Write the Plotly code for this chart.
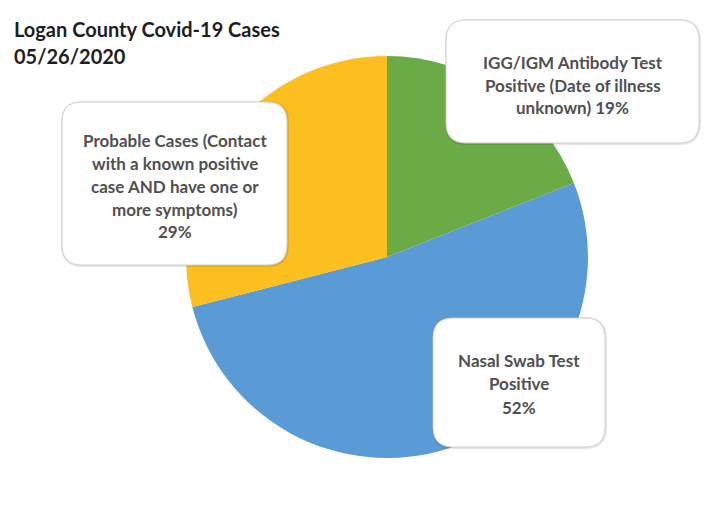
import plotly.graph_objects as go

# ---- data ----
categories = [
    "IGG/IGM Antibody Test Positive (Date of illness unknown)",
    "Nasal Swab Test Positive",
    "Probable Cases (Contact with a known positive case AND have one or more symptoms)",
]
values = [19, 52, 29]
box_lines = [
    ["IGG/IGM Antibody Test", "Positive (Date of illness", "unknown) 19%"],
    ["Nasal Swab Test", "Positive", "52%"],
    ["Probable Cases (Contact", "with a known positive", "case AND have one or", "more symptoms)", "29%"],
]
title_lines = ["Logan County Covid-19 Cases", "05/26/2020"]
colors = ["#6aab45", "#5b9bd5", "#fbbf1f"]

W, H = 726, 519
OFF = 8  # page body margin

def px(x):
    return (x - OFF) / W

def py(y):
    return 1 - (y - OFF) / H

def rrect(x0, y0, x1, y1, r):
    def P(x, y):
        return f"{px(x):.5f},{py(y):.5f}"
    d = f"M {P(x0 + r, y0)} L {P(x1 - r, y0)} Q {P(x1, y0)} {P(x1, y0 + r)} "
    d += f"L {P(x1, y1 - r)} Q {P(x1, y1)} {P(x1 - r, y1)} "
    d += f"L {P(x0 + r, y1)} Q {P(x0, y1)} {P(x0, y1 - r)} "
    d += f"L {P(x0, y0 + r)} Q {P(x0, y0)} {P(x0 + r, y0)} Z"
    return d

cx, cy, R = 387, 257, 201

fig = go.Figure(go.Pie(
    labels=categories,
    values=values,
    sort=False,
    direction="clockwise",
    rotation=0,
    marker=dict(colors=colors, line=dict(width=0)),
    textinfo="none",
    hoverinfo="label+percent",
    showlegend=False,
    domain=dict(x=[px(cx - R), px(cx + R)], y=[py(cy + R), py(cy - R)]),
))

boxes = [
    (446, 20, 699, 143),
    (433, 318, 605, 447),
    (62, 102, 287, 265),
]
text_centers = [85.5, 383.5, 186]
line_gap = [22.5, 23.5, 23]

shapes = []
annotations = []
for (x0, y0, x1, y1), lines, gap, ymid in zip(boxes, box_lines, line_gap, text_centers):
    shapes.append(dict(type="path", xref="paper", yref="paper",
                       path=rrect(x0 - 1, y0 - 1, x1 + 2, y1 + 2, 22),
                       fillcolor="rgba(0,0,0,0.10)", line=dict(width=0)))
    shapes.append(dict(type="path", xref="paper", yref="paper",
                       path=rrect(x0, y0, x1, y1, 20),
                       fillcolor="white", line=dict(color="#d0d0d0", width=1)))
    n = len(lines)
    for i, t in enumerate(lines):
        yy = ymid + (i - (n - 1) / 2) * gap
        annotations.append(dict(
            text=t, xref="paper", yref="paper",
            x=px((x0 + x1) / 2), y=py(yy),
            xanchor="center", yanchor="middle", showarrow=False,
            font=dict(family="Lato", size=17, color="#505050", weight="bold"),
        ))

for i, t in enumerate(title_lines):
    annotations.append(dict(
        text=t, xref="paper", yref="paper",
        x=px(12), y=py(29 + i * 27),
        xanchor="left", yanchor="middle", showarrow=False,
        font=dict(family="Lato", size=20, color="#1e1e1e", weight="bold"),
    ))

fig.update_layout(
    width=W, height=H,
    margin=dict(l=0, r=0, t=0, b=0),
    paper_bgcolor="white",
    plot_bgcolor="white",
    shapes=shapes,
    annotations=annotations,
)

fig.write_html("out.html")
